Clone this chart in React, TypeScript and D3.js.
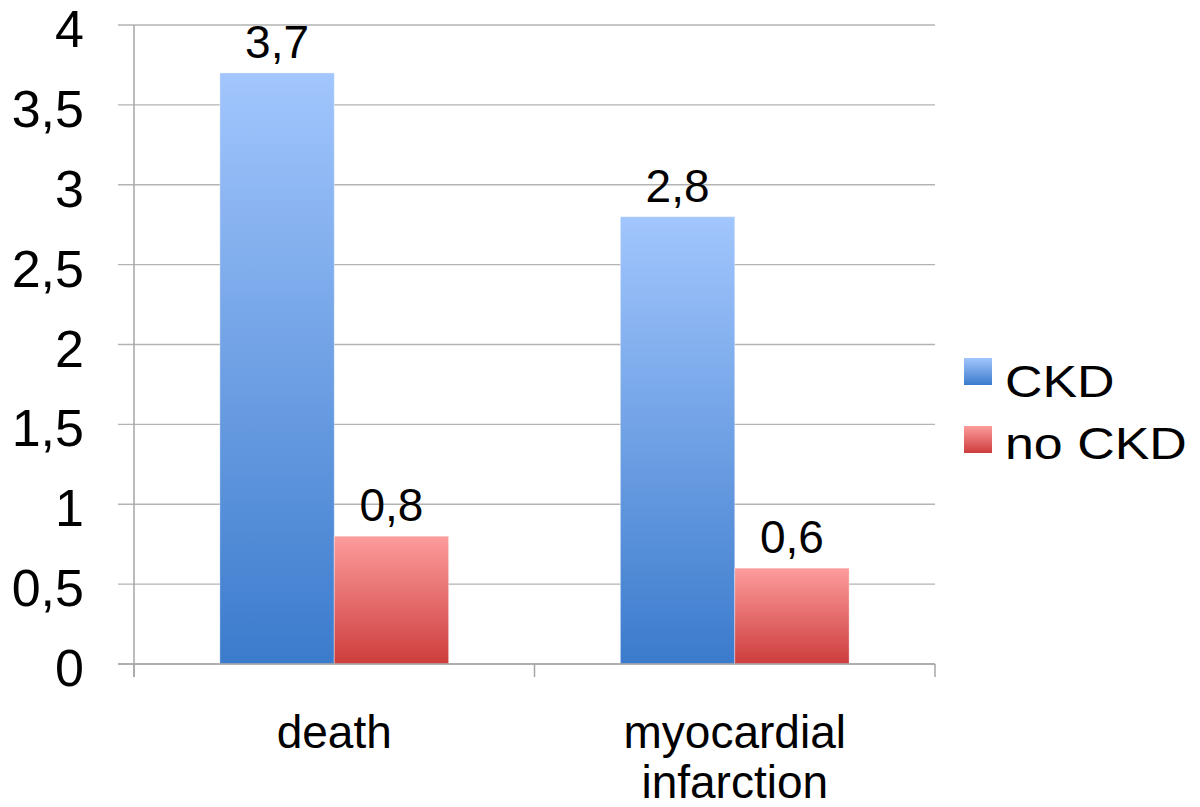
import React from "react";
import * as d3 from "d3";

const categories = ["death", "myocardial infarction"];
const categoryLines = [["death"], ["myocardial", "infarction"]];
const seriesNames = ["CKD", "no CKD"];
const ckdValues = [3.7, 2.8];
const noCkdValues = [0.8, 0.6];
const yTicks = [0, 0.5, 1, 1.5, 2, 2.5, 3, 3.5, 4];

const fmt = (v: number) => String(v).replace(".", ",");
const FONT = "'Liberation Sans', Arial, Helvetica, sans-serif";

export default function App() {
  const W = 1200, H = 807;
  const left = 134, right = 935, top = 25, bottom = 664;
  const y = d3.scaleLinear().domain([0, 4]).range([bottom, top]);
  const x0 = d3.scaleBand<string>().domain(categories).range([left, right]).paddingInner(0).paddingOuter(0);
  const x1 = d3.scaleBand<string>().domain(seriesNames).range([0, x0.bandwidth()]).paddingInner(0).paddingOuter(0.751);
  const series = [ckdValues, noCkdValues];
  const fills = ["url(#gBlue)", "url(#gRed)"];
  const gridColor = "#b3b3b3";
  const axisColor = "#a6a6a6";

  return (
    <svg width={W} height={H} style={{ position: "absolute", left: 0, top: 0, background: "#fff" }} fontFamily={FONT}>
      <defs>
        <linearGradient id="gBlue" x1="0" y1="0" x2="0" y2="1">
          <stop offset="0" stopColor="#a2c6fd" />
          <stop offset="1" stopColor="#3b7bcc" />
        </linearGradient>
        <linearGradient id="gRed" x1="0" y1="0" x2="0" y2="1">
          <stop offset="0" stopColor="#fd9c9c" />
          <stop offset="1" stopColor="#cd3d3c" />
        </linearGradient>
      </defs>
      {yTicks.map((t) => (
        <line key={"g" + t} x1={118} x2={right} y1={y(t)} y2={y(t)} stroke={gridColor} strokeWidth={1.3} />
      ))}
      <line x1={left} x2={left} y1={top} y2={677} stroke={axisColor} strokeWidth={1.5} />
      {[left, ...categories.map((c) => (x0(c) as number) + x0.bandwidth())].map((xx, i) => (
        <line key={"xt" + i} x1={xx} x2={xx} y1={bottom} y2={677} stroke={axisColor} strokeWidth={1.5} />
      ))}
      {categories.map((c, ci) =>
        seriesNames.map((s, si) => {
          const v = series[si][ci];
          const bx = (x0(c) as number) + (x1(s) as number);
          const bw = x1.bandwidth();
          return (
            <g key={c + s}>
              <rect x={bx} y={y(v)} width={bw} height={y(0) - y(v)} fill={fills[si]} stroke="#ffffff" strokeOpacity={0.35} strokeWidth={1} />
              <text x={bx + bw / 2} y={y(v) - 15} textAnchor="middle" fontSize={46} fill="#000">
                {fmt(v)}
              </text>
            </g>
          );
        })
      )}
      <line x1={118} x2={right} y1={bottom} y2={bottom} stroke={axisColor} strokeWidth={1.5} />
      {yTicks.map((t) => (
        <text key={"yl" + t} x={84} y={y(t) + 22} textAnchor="end" fontSize={52} fill="#000">
          {fmt(t)}
        </text>
      ))}
      {categories.map((c, ci) => {
        const cx = (x0(c) as number) + x0.bandwidth() / 2;
        return categoryLines[ci].map((ln, li) => (
          <text key={c + li} x={cx} y={748 + li * 50} textAnchor="middle" fontSize={46} fill="#000">
            {ln}
          </text>
        ));
      })}
      {seriesNames.map((s, si) => (
        <g key={"lg" + s}>
          <rect x={964} y={358 + si * 68} width={28} height={27} fill={fills[si]} />
          <text transform={`translate(1005, ${397 + si * 62}) scale(1.18, 1)`} fontSize={44} fill="#000">
            {s}
          </text>
        </g>
      ))}
    </svg>
  );
}
